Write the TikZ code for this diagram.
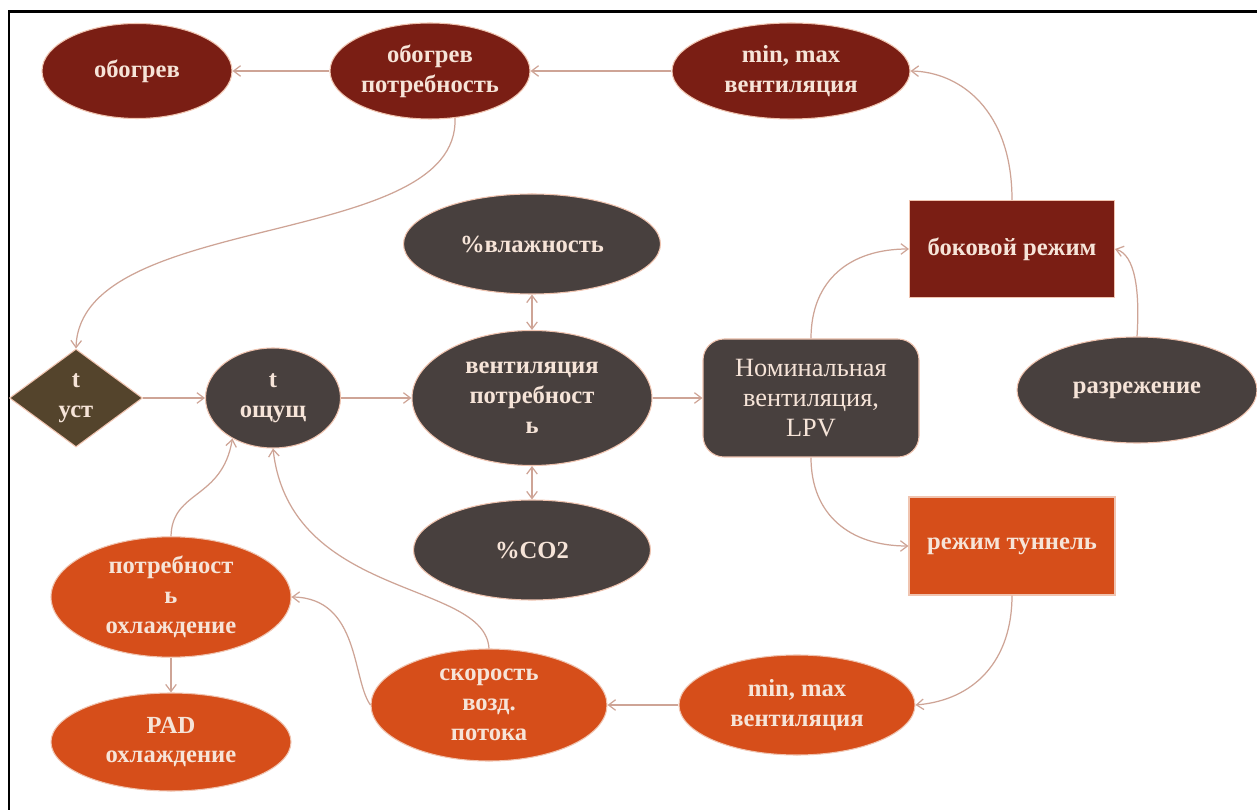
\documentclass[tikz,border=0pt]{standalone}
\usepackage{fontspec}
\setmainfont{Liberation Serif}
\usetikzlibrary{shapes.geometric,arrows.meta}
\definecolor{cred}{RGB}{122,30,20}
\definecolor{cgray}{RGB}{72,64,62}
\definecolor{cbrown}{RGB}{84,68,44}
\definecolor{corange}{RGB}{214,78,26}
\definecolor{cedge}{RGB}{206,164,150}
\definecolor{ctext}{RGB}{246,228,216}
\definecolor{cglow}{RGB}{240,196,176}
\begin{document}
\begin{tikzpicture}[x=0.02cm,y=-0.02cm,
  sz/.style 2 args={minimum width=#1*0.02cm, minimum height=#2*0.02cm},
  base/.style={text=ctext, font=\fontsize{14}{17}\selectfont\bfseries, align=center, inner sep=1pt, draw=cglow, line width=0.6pt},
  redell/.style={base, ellipse, fill=cred},
  grayell/.style={base, ellipse, fill=cgray},
  orell/.style={base, ellipse, fill=corange},
  redbox/.style={base, rectangle, fill=cred},
  orbox/.style={base, rectangle, fill=corange},
  link/.style={draw=cedge, line width=0.7pt, -{Straight Barb[length=4pt,width=6pt]}},
  dlink/.style={draw=cedge, line width=0.7pt, {Straight Barb[length=4pt,width=6pt]}-{Straight Barb[length=4pt,width=6pt]}}
]
\useasboundingbox (0,0) rectangle (1257,810);
\fill[white] (0,0) rectangle (1257,810);
\draw[line width=1.7pt] (1257,12) -- (9,12) -- (9,810);

% top row
\node[redell, sz={190}{95}] (obogrev) at (137,71) {обогрев};
\node[redell, sz={165}{96}] (obpotr) at (430,71) {обогрев\\потребность};
\node[redell, sz={238}{96}] (mmtop) at (791,71) {min, max\\вентиляция};
\node[redbox, sz={205}{97}] (bokovoy) at (1012,249) {боковой режим};

% middle
\node[grayell, sz={257}{100}] (vlazh) at (532,244) {\%влажность};
\node[base, diamond, fill=cbrown, sz={133}{98}] (tust) at (76,398) {t\\уст};
\node[grayell, sz={135}{100}] (tosh) at (273,398) {t\\ощущ};
\node[grayell, sz={240}{135}] (ventpotr) at (532,398) {вентиляция\\потребност\\ь};
\node[base, rectangle, rounded corners=12pt, fill=cgray, sz={216}{118}, font=\fontsize{15}{17}\selectfont] (nomin) at (811,398) {Номинальная\\вентиляция,\\LPV};
\node[grayell, sz={240}{106}] (razr) at (1137,390) {разрежение};
\node[grayell, sz={237}{100}] (co2) at (532,550) {\%CO2};
\node[orbox, sz={206}{98}] (tunnel) at (1012,546) {режим туннель};

% bottom
\node[orell, sz={240}{100}] (potrohl) at (171,597) {потребност\\ь\\охлаждение};
\node[orell, sz={236}{112}] (skor) at (489,705) {скорость\\возд.\\потока};
\node[orell, sz={236}{100}] (mmbot) at (797,705) {min, max\\вентиляция};
\node[orell, sz={240}{98}] (pad) at (171,742) {PAD\\охлаждение};

% connectors
\draw[link] (mmtop.west) -- (obpotr.east);
\draw[link] (obpotr.west) -- (obogrev.east);
\draw[link] (obpotr.-62) .. controls (460,250) and (80,210) .. (tust.north);
\draw[link] (tust.east) -- (tosh.west);
\draw[link] (tosh.east) -- (ventpotr.west);
\draw[link] (ventpotr.east) -- (nomin.west);
\draw[dlink] (vlazh.south) -- (ventpotr.north);
\draw[dlink] (ventpotr.south) -- (co2.north);
\draw[link] (nomin.north) .. controls (811,280) and (850,249) .. (bokovoy.west);
\draw[link] (nomin.south) .. controls (811,515) and (850,546) .. (tunnel.west);
\draw[link] (razr.north) .. controls (1140,290) and (1135,255) .. (bokovoy.east);
\draw[link] (bokovoy.north) .. controls (1012,110) and (960,72) .. (mmtop.east);
\draw[link] (tunnel.south) .. controls (1012,660) and (975,700) .. (mmbot.east);
\draw[link] (mmbot.west) -- (skor.east);
\draw[link] (skor.north) .. controls (485,580) and (290,600) .. (tosh.south);
\draw[link] (skor.west) .. controls (352,680) and (360,598) .. (potrohl.east);
\draw[link] (potrohl.north) .. controls (172,490) and (222,500) .. (tosh.225);
\draw[link] (potrohl.south) -- (pad.north);
\end{tikzpicture}
\end{document}
